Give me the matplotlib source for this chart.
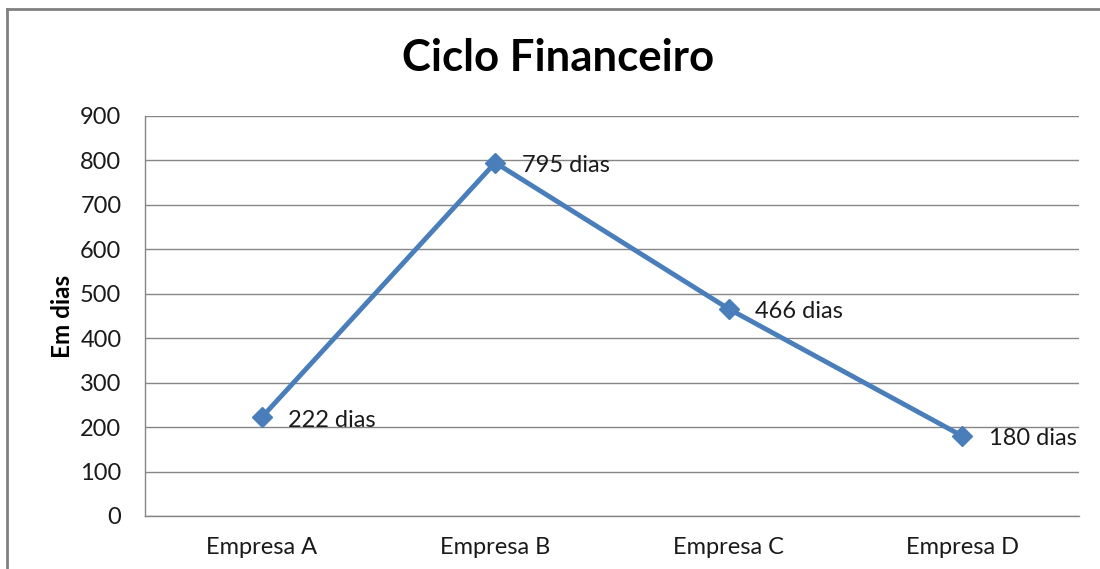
import matplotlib.pyplot as plt
from matplotlib.lines import Line2D

empresas = ['Empresa A', 'Empresa B', 'Empresa C', 'Empresa D']
dias = [222, 795, 466, 180]
yticks = [0, 100, 200, 300, 400, 500, 600, 700, 800, 900]

plt.rcParams['font.family'] = ['Lato', 'DejaVu Sans']

W, H = 1100, 569
fig = plt.figure(figsize=(W / 100, H / 100), dpi=100)
ax = fig.add_axes([145 / W, 53 / H, 934 / W, 400 / H])

blue = '#4A7EBB'
grid = '#868686'

x = list(range(len(empresas)))
ax.plot(x, dias, color=blue, lw=3.5, marker='D', ms=10, mec=blue, mfc=blue,
        zorder=3, clip_on=False)
for xi, v in zip(x, dias):
    ax.annotate(f'{v} dias', (xi, v), xytext=(19, -2), textcoords='offset points',
                ha='left', va='center', fontsize=17, color='#1a1a1a')

ax.set_xlim(-0.5, len(empresas) - 0.5)
ax.set_ylim(0, 900)
ax.set_yticks(yticks)
ax.set_xticks(x)
ax.set_xticklabels(empresas)
ax.tick_params(axis='both', length=0, labelsize=17, colors='#1a1a1a')
ax.tick_params(axis='y', pad=17)
ax.tick_params(axis='x', pad=15)
ax.yaxis.grid(True, color=grid, lw=1)
ax.set_axisbelow(True)
for s in ['top', 'right']:
    ax.spines[s].set_visible(False)
for s in ['left', 'bottom']:
    ax.spines[s].set_color(grid)
    ax.spines[s].set_linewidth(1)

ax.set_ylabel('Em dias', fontsize=17.5, fontweight='bold', labelpad=4)
fig.text(558 / W, 1 - 58 / H, 'Ciclo Financeiro', ha='center', va='center',
         fontsize=31.5, fontweight='bold')

# outer chart border (only top and left are visible)
fig.add_artist(Line2D([7 / W, 1], [1 - 9 / H, 1 - 9 / H], color='#808080', lw=2,
                      transform=fig.transFigure))
fig.add_artist(Line2D([7 / W, 7 / W], [0, 1 - 9 / H], color='#808080', lw=2,
                      transform=fig.transFigure))

fig.savefig('out.png', dpi=100)
